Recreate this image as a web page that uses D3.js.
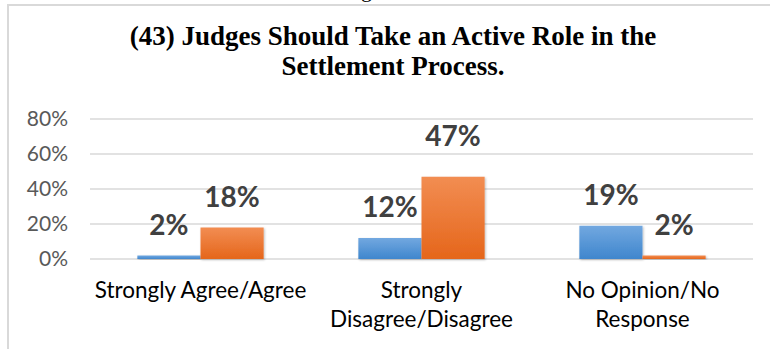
<!DOCTYPE html>
<html>
<head>
<meta charset="utf-8">
<script src="https://d3js.org/d3.v7.min.js"></script>
<style>
  body { margin: 0; background: #fff; }
  svg { display: block; }
</style>
</head>
<body>
<svg id="svg" width="770" height="349"></svg>
<script>
let categories = ["Strongly Agree/Agree", "Strongly Disagree/Disagree", "No Opinion/No Response"];
let categoryLines = [["Strongly Agree/Agree"], ["Strongly", "Disagree/Disagree"], ["No Opinion/No", "Response"]];
let seriesNames = ["Blue", "Orange"];
let blueValues = [2, 12, 19];
let orangeValues = [18, 47, 2];
let yTicks = [0, 20, 40, 60, 80];
let titleLines = ["(43) Judges Should Take an Active Role in the", "Settlement Process."];

let svg = d3.select("svg");
let width = 770, height = 349;

let margin = {left: 90, right: 17, top: 119, bottom: 90};

let x = d3.scaleBand()
    .domain(categories)
    .range([margin.left, width - margin.right])
    .padding(0);

let y = d3.scaleLinear()
    .domain([0, 80])
    .range([height - margin.bottom, margin.top]);

// excel gap width 150% -> each bar is band / 3.5
let barW = x.bandwidth() / 3.5;
let inner = d3.scaleBand()
    .domain(seriesNames)
    .range([-barW, barW]);

let rows = [];
categories.forEach(function(c, i) {
  rows.push({cat: c, series: "Blue", value: blueValues[i]});
  rows.push({cat: c, series: "Orange", value: orangeValues[i]});
});

// gradients + shadow
let defs = svg.append("defs");
let grads = {
  Blue: ["#72a8e0", "#3f86cd"],
  Orange: ["#f28d52", "#e5661b"]
};
Object.keys(grads).forEach(function(k) {
  let g = defs.append("linearGradient")
      .attr("id", "grad" + k)
      .attr("x1", 0).attr("y1", 0).attr("x2", 0).attr("y2", 1);
  g.append("stop").attr("offset", "0%").attr("stop-color", grads[k][0]);
  g.append("stop").attr("offset", "100%").attr("stop-color", grads[k][1]);
});
let f = defs.append("filter").attr("id", "shadow")
    .attr("x", "-20%").attr("y", "-20%").attr("width", "140%").attr("height", "140%");
f.append("feDropShadow")
    .attr("dx", 1).attr("dy", 1).attr("stdDeviation", 1.2)
    .attr("flood-color", "#000").attr("flood-opacity", 0.25);

// frame around the chart
svg.append("line")
    .attr("x1", 7).attr("x2", width).attr("y1", 5).attr("y2", 5)
    .style("stroke", "#d9d9d9").style("stroke-width", 2);
svg.append("line")
    .attr("x1", 8).attr("x2", 8).attr("y1", 5).attr("y2", height)
    .style("stroke", "#d9d9d9").style("stroke-width", 2);

// cut-off text from the page above
svg.append("text")
    .attr("x", 361).attr("y", -3)
    .style("font-family", "'Liberation Serif', serif")
    .style("font-size", "22px")
    .style("fill", "#000")
    .text("g");

// title
svg.append("g").selectAll("text")
    .data(titleLines)
  .enter().append("text")
    .attr("x", 393)
    .attr("y", function(d, i) { return 45 + i * 30; })
    .attr("text-anchor", "middle")
    .style("font-family", "'Liberation Serif', 'Times New Roman', serif")
    .style("font-weight", "bold")
    .style("font-size", "27px")
    .style("fill", "#000")
    .text(function(d) { return d; });

// gridlines
let grid = svg.append("g").attr("class", "grid");
grid.selectAll("line")
    .data(yTicks)
  .enter().append("line")
    .attr("x1", margin.left)
    .attr("x2", width - margin.right)
    .attr("y1", function(d) { return y(d); })
    .attr("y2", function(d) { return y(d); })
    .style("stroke", "#d9d9d9")
    .style("stroke-width", 1.5);

// y axis labels
let yAxis = svg.append("g")
    .attr("transform", "translate(" + (margin.left - 22) + ",0)")
    .call(d3.axisLeft(y).tickValues(yTicks).tickSize(0).tickPadding(0)
      .tickFormat(function(d) { return d + "%"; }));
yAxis.select(".domain").remove();
yAxis.selectAll("text")
    .style("font-family", "Lato, 'Open Sans', sans-serif")
    .style("font-size", "21px")
    .style("fill", "#595959");

// bars
let bars = svg.append("g").attr("class", "bars");
bars.selectAll("rect")
    .data(rows)
  .enter().append("rect")
    .attr("x", function(d) { return x(d.cat) + x.bandwidth() / 2 + inner(d.series); })
    .attr("width", inner.bandwidth())
    .attr("y", function(d) { return y(d.value); })
    .attr("height", function(d) { return y(0) - y(d.value); })
    .attr("fill", function(d) { return "url(#grad" + d.series + ")"; })
    .attr("filter", "url(#shadow)");

// value labels
bars.selectAll("text")
    .data(rows)
  .enter().append("text")
    .attr("x", function(d) { return x(d.cat) + x.bandwidth() / 2 + inner(d.series) + inner.bandwidth() / 2; })
    .attr("y", function(d) {
      let lift = d.value > 40 ? 31 : 21;
      return y(d.value) - lift;
    })
    .attr("text-anchor", "middle")
    .style("font-family", "Lato, 'Open Sans', sans-serif")
    .style("font-weight", "bold")
    .style("font-size", "28px")
    .style("fill", "#404040")
    .text(function(d) { return d.value + "%"; });

// category labels
let xl = svg.append("g").attr("class", "xlabels");
categories.forEach(function(c, i) {
  xl.append("text")
    .attr("x", x(c) + x.bandwidth() / 2)
    .attr("y", 298)
    .attr("text-anchor", "middle")
    .style("font-family", "Lato, 'Open Sans', sans-serif")
    .style("font-size", "22.5px")
    .style("fill", "#000")
    .selectAll("tspan")
    .data(categoryLines[i])
    .enter().append("tspan")
      .attr("x", x(c) + x.bandwidth() / 2)
      .attr("dy", function(d, j) { return j == 0 ? 0 : 29; })
      .text(function(d) { return d; });
});
</script>
</body>
</html>
